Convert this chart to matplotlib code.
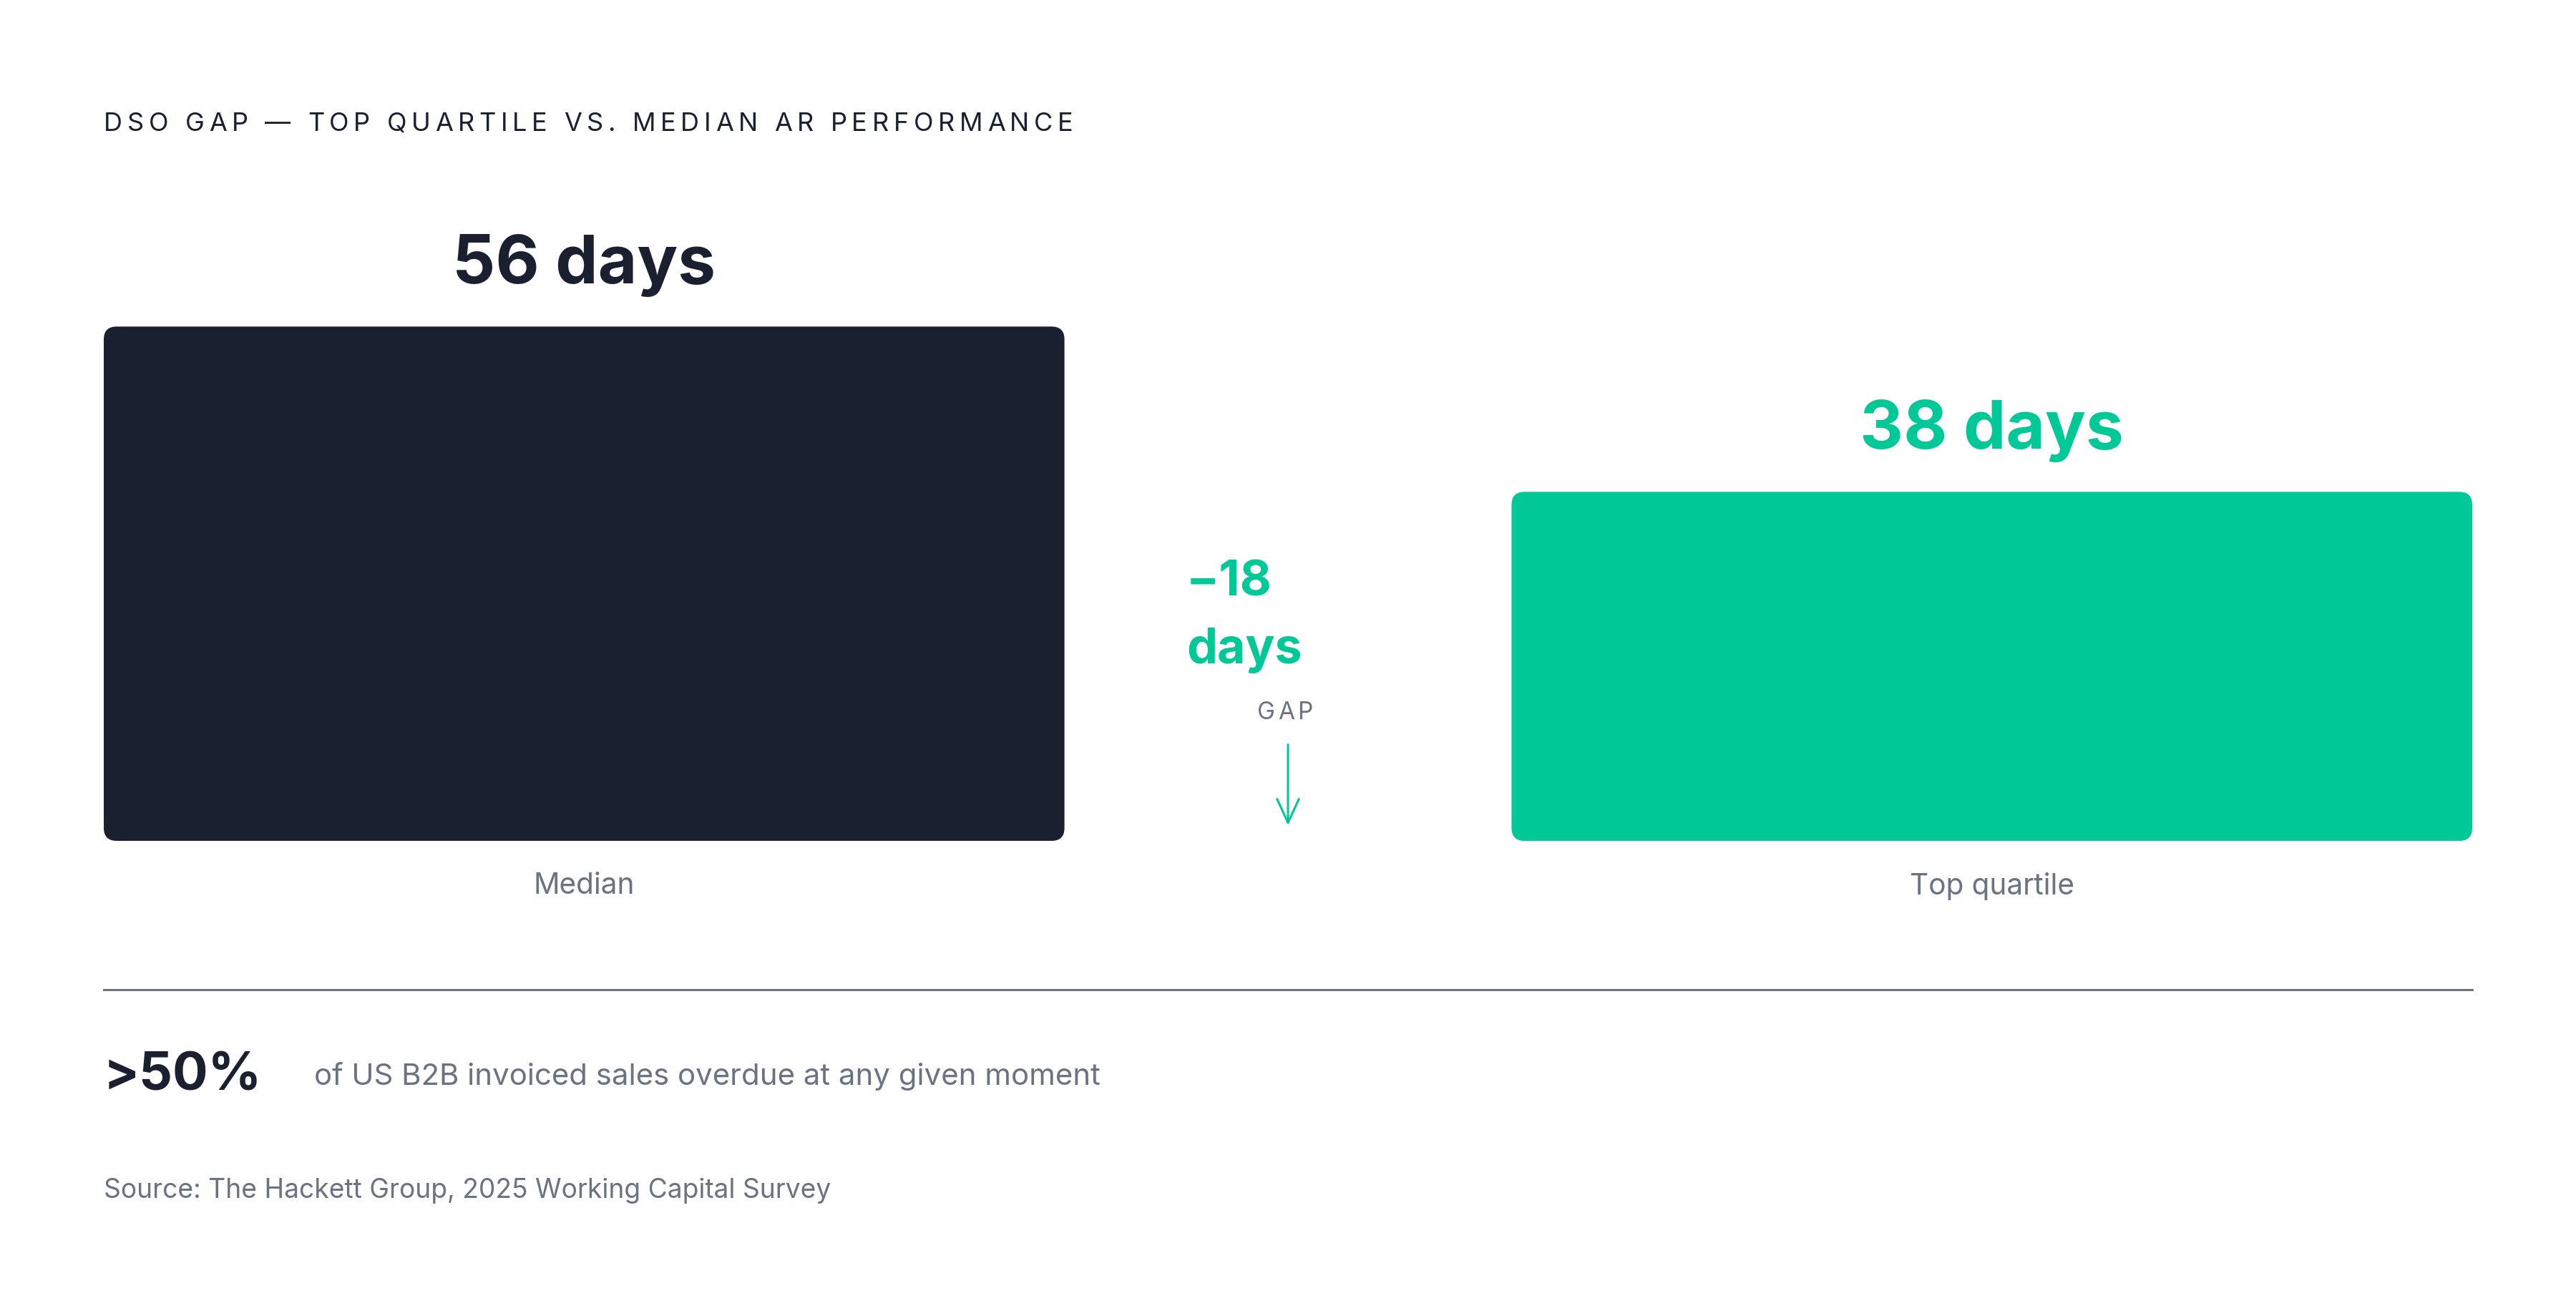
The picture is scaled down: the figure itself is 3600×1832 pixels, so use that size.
import matplotlib.pyplot as plt
from matplotlib.patches import FancyBboxPatch, FancyArrowPatch

# data
categories = ["Median", "Top quartile"]
dso_days = [56, 38]
bar_labels = ["56 days", "38 days"]
gap_value = "\u221218"
gap_unit = "days"
title = "DSO GAP \u2014 TOP QUARTILE VS. MEDIAN AR PERFORMANCE"
stat_value = ">50%"
stat_text = "of US B2B invoiced sales overdue at any given moment"
source = "Source: The Hackett Group, 2025 Working Capital Survey"

DARK = "#1b2030"
GREEN = "#00c896"
GRAY = "#6b7280"
FONT = ["Inter", "DejaVu Sans"]

W, H = 3600, 1833
fig = plt.figure(figsize=(18, 9.165), dpi=200)
fig.patch.set_facecolor("white")


def fx(x):
    return x / W


def fy(y):
    return 1 - y / H


def spaced_text(x, y, s, track_em, size, **kw):
    # matplotlib has no letter-spacing, so place characters one by one
    r = fig.canvas.get_renderer()
    em = size * 200 / 72
    cx = x
    for ch in s:
        t = fig.text(fx(cx), fy(y), ch, fontsize=size, family=FONT, va="baseline", **kw)
        w = t.get_window_extent(renderer=r).width
        if ch == " ":
            w = 0.28 * em
        cx += w + track_em * em
    return cx


# bars
ax = fig.add_axes([fx(145), fy(1176), fx(3455) - fx(145), 770 / H])
bw = 1343 / 1968
xs = list(range(len(categories)))
bars = ax.bar(xs, dso_days, width=bw, color=[DARK, GREEN])
ax.set_xlim(-bw / 2, len(categories) - 1 + bw / 2)
ax.set_ylim(0, 60)
ax.axis("off")

# swap to rounded rectangles
x_per_px = (ax.get_xlim()[1] - ax.get_xlim()[0]) / 3310
y_per_px = 60 / 770
for b in bars:
    rr = FancyBboxPatch((b.get_x(), b.get_y()), b.get_width(), b.get_height(),
                        boxstyle=f"round,pad=0,rounding_size={18 * x_per_px}",
                        mutation_aspect=y_per_px / x_per_px,
                        facecolor=b.get_facecolor(), edgecolor="none")
    b.remove()
    ax.add_patch(rr)

for i, (v, lab) in enumerate(zip(dso_days, bar_labels)):
    ax.annotate(lab, (i, v), xytext=(0, 22), textcoords="offset points",
                ha="center", va="baseline", fontsize=34, fontweight="bold",
                family=FONT, color=DARK if i == 0 else GREEN)
    ax.annotate(categories[i], (i, 0), xytext=(0, -22.5), textcoords="offset points",
                ha="center", va="center", fontsize=14.6, family=FONT, color=GRAY)

# title
spaced_text(145, 183, title, 0.185, 13, color=DARK)

# gap annotation
fig.text(fx(1658), fy(833), gap_value, fontsize=24.5, fontweight="bold", family=FONT,
         color=GREEN, va="baseline")
fig.text(fx(1658), fy(927), gap_unit, fontsize=24.5, fontweight="bold", family=FONT,
         color=GREEN, va="baseline")
spaced_text(1757, 1005, "GAP", 0.12, 12, color=GRAY)
arrow = FancyArrowPatch((fx(1800), fy(1036)), (fx(1800), fy(1160)),
                        transform=fig.transFigure,
                        arrowstyle="->,head_length=1.2,head_width=0.55",
                        mutation_scale=10, color=GREEN, lw=1.1)
fig.add_artist(arrow)

# divider
fig.add_artist(plt.Line2D([fx(145), fx(3455)], [fy(1384), fy(1384)],
                          transform=fig.transFigure, color=GRAY, lw=1.1))

# stat
fig.text(fx(145), fy(1523), stat_value, fontsize=26.5, fontweight="bold", family=FONT,
         color=DARK, va="baseline")
fig.text(fx(439), fy(1516), stat_text, fontsize=15.1, family=FONT, color=GRAY, va="baseline")

# source
fig.text(fx(145), fy(1674), source, fontsize=13.4, family=FONT, color=GRAY, va="baseline")

fig.savefig("out.png", dpi=200, facecolor="white")
